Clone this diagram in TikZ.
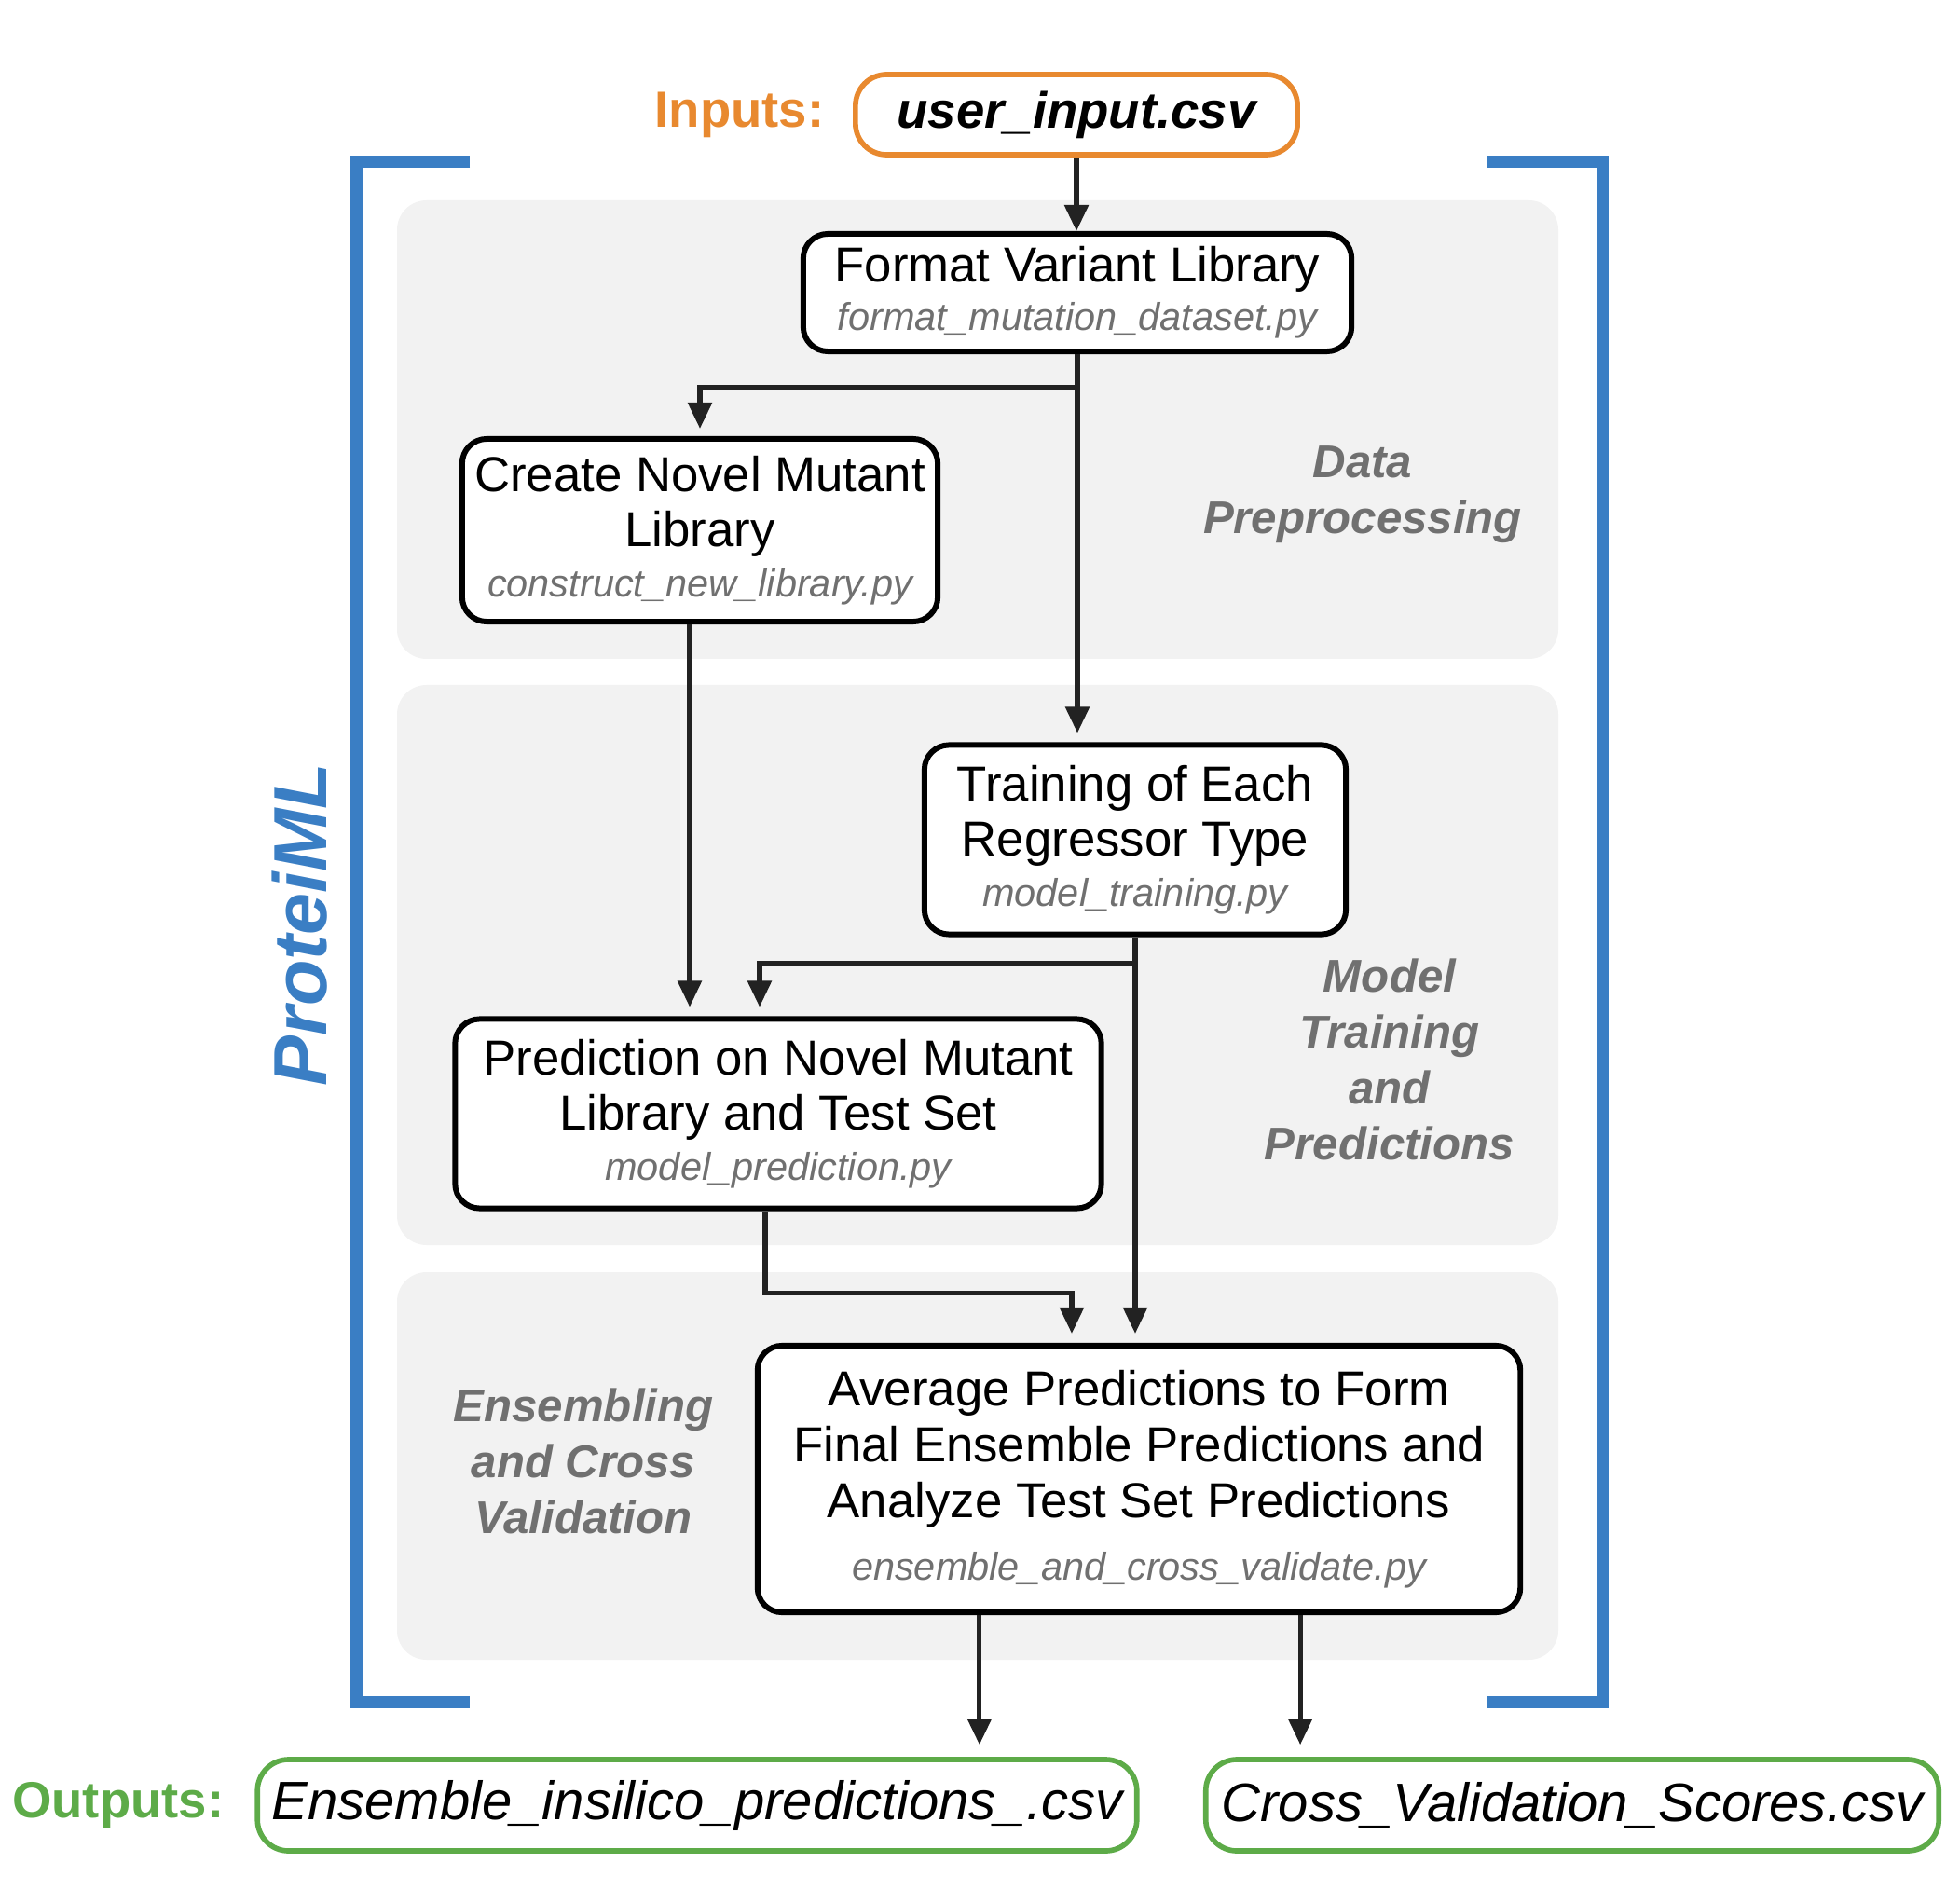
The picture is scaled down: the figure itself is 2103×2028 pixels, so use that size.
\documentclass[tikz,border=0pt]{standalone}
\usepackage{fontspec}
\setmainfont{Liberation Sans}
\usetikzlibrary{arrows.meta}
\definecolor{pmlblue}{HTML}{3A7EC4}
\definecolor{inorange}{HTML}{E8892F}
\definecolor{outgreen}{HTML}{5DAB48}
\definecolor{stagegray}{HTML}{707070}
\definecolor{panelgray}{HTML}{F2F2F2}
\definecolor{arrowgray}{HTML}{222222}
\newcommand{\pyfile}[1]{{\color{stagegray}\itshape\fontsize{11.8}{14}\selectfont #1}}
\tikzset{
  box/.style={draw=black, line width=1.7pt, rounded corners=7.5pt, fill=white,
    align=center, inner sep=0pt, font=\fontsize{15}{17}\selectfont},
  filebox/.style={line width=1.6pt, rounded corners=9.5pt, fill=white, inner sep=0pt,
    minimum height=0.98cm, font=\itshape\fontsize{16.5}{19}\selectfont},
  panel/.style={fill=panelgray, rounded corners=9pt},
  brk/.style={draw=pmlblue, line width=3.7pt},
  stage/.style={text=stagegray, align=center, font=\bfseries\itshape\fontsize{14}{17}\selectfont},
  arr/.style={draw=arrowgray, line width=1.45pt, -{Triangle[length=8pt,width=7.2pt]}},
}
\begin{document}
\begin{tikzpicture}[x=0.01cm, y=-0.01cm]
  \useasboundingbox (0,0) rectangle (2103,2028);
  % stage panels
  \fill[panel] (426,215) rectangle (1672,707);
  \fill[panel] (426,735) rectangle (1672,1336);
  \fill[panel] (426,1365) rectangle (1672,1781);
  % brackets
  \draw[brk] (504,174) -| (382,1826) -- (504,1826);
  \draw[brk] (1596,174) -| (1719,1826) -- (1596,1826);
  \node[rotate=90, text=pmlblue, font=\bfseries\itshape\fontsize{23}{27}\selectfont] (pml) at (322,992) {ProteiML};
  % inputs
  \node[filebox, draw=inorange, minimum width=4.74cm, minimum height=0.86cm,
    font=\bfseries\itshape\fontsize{15.5}{18}\selectfont] (inp) at (1155,123) {user\_input.csv};
  \node[anchor=east, inner sep=0pt, text=inorange, font=\bfseries\fontsize{15.5}{18}\selectfont] (inlbl) at (885,123) {Inputs:};
  % steps
  \node[box, minimum width=5.88cm, minimum height=1.26cm] (fmt) at (1156,314)
    {Format Variant Library\\[-2.2pt]\pyfile{format\_mutation\_dataset.py}};
  \node[box, minimum width=5.10cm, minimum height=1.96cm] (crt) at (751,569)
    {Create Novel Mutant\\Library\\[-1.7pt]\pyfile{construct\_new\_library.py}};
  \node[box, minimum width=4.52cm, minimum height=2.03cm] (trn) at (1218,901)
    {Training of Each\\Regressor Type\\[-1.7pt]\pyfile{model\_training.py}};
  \node[box, minimum width=6.93cm, minimum height=2.03cm] (prd) at (835,1195)
    {Prediction on Novel Mutant\\Library and Test Set\\[-1.7pt]\pyfile{model\_prediction.py}};
  \node[box, minimum width=8.18cm, minimum height=2.86cm] (avg) at (1222,1587)
    {Average Predictions to Form\\Final Ensemble Predictions and\\Analyze Test Set Predictions\\[2pt]\pyfile{ensemble\_and\_cross\_validate.py}};
  % stage names
  \node[stage] (st1) at (1462,531) {Data\\Preprocessing};
  \node[stage] (st2) at (1491,1137) {Model\\Training\\and\\Predictions};
  \node[stage] (st3) at (626,1568) {Ensembling\\and Cross\\Validation};
  % outputs
  \node[filebox, draw=outgreen, minimum width=9.43cm] (out1) at (748,1937) {Ensemble\_insilico\_predictions\_.csv};
  \node[filebox, draw=outgreen, minimum width=7.86cm] (out2) at (1687,1937) {Cross\_Validation\_Scores.csv};
  \node[anchor=east, inner sep=0pt, text=outgreen, font=\bfseries\fontsize{15.5}{18}\selectfont] (outlbl) at (241,1937) {Outputs:};
  % connectors
  \coordinate (b1) at (1156,416);
  \coordinate (b2) at (1218,1034);
  \draw[arr] (inp.south) -- (inp.south |- fmt.north);
  \draw[arr, shorten >=0.1cm] (fmt.south) -- (fmt.south |- trn.north);
  \draw[arr, shorten >=0.08cm] (b1) -| (crt.north);
  \draw[arr, shorten >=0.1cm] ([xshift=-0.11cm]crt.south) -- ([xshift=-0.11cm]crt.south |- prd.north);
  \draw[arr, shorten >=0.1cm] (trn.south) -- (trn.south |- avg.north);
  \draw[arr, shorten >=0.1cm] (b2) -| ([xshift=-0.2cm]prd.north);
  \draw[arr, shorten >=0.1cm] ([xshift=-0.14cm]prd.south) -- ++(0,88) -| ([xshift=-0.72cm]avg.north);
  \draw[arr, shorten >=0.13cm] ([xshift=-1.71cm]avg.south) -- ([xshift=-1.71cm]avg.south |- out1.north);
  \draw[arr, shorten >=0.13cm] ([xshift=1.73cm]avg.south) -- ([xshift=1.73cm]avg.south |- out2.north);
\end{tikzpicture}
\end{document}
